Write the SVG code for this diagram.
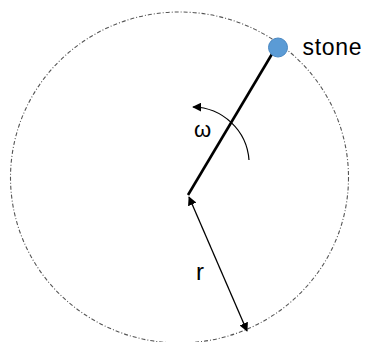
<svg xmlns="http://www.w3.org/2000/svg" width="368" height="342" viewBox="0 0 368 342">
<defs>
<style>
.lbl{font-family:"Liberation Sans",Arial,sans-serif;fill:#000}
</style>
<marker id="ah" viewBox="0 0 10 10" refX="9" refY="5" markerWidth="9" markerHeight="9" markerUnits="userSpaceOnUse" orient="auto-start-reverse">
<path d="M0,0 L10,5 L0,10 Z" fill="#000"/>
</marker>
</defs>
<rect width="368" height="342" fill="#fff"/>
<g id="path-circle">
<ellipse cx="179.5" cy="177.5" rx="169" ry="165.5" fill="none" stroke="#555" stroke-width="1.1" stroke-dasharray="4 2 1 2"/>
</g>
<g id="connectors">
<line id="rod" x1="188" y1="195" x2="272" y2="54" stroke="#000" stroke-width="2.6"/>
<path id="omega-arc" d="M249,160 A57,57 0 0 0 193,107" fill="none" stroke="#000" stroke-width="1.2" marker-end="url(#ah)"/>
<line id="radius" x1="189" y1="197" x2="247" y2="331" stroke="#000" stroke-width="1.3" marker-start="url(#ah)" marker-end="url(#ah)"/>
</g>
<g id="stone">
<circle cx="278" cy="47.5" r="9.5" fill="#5b9bd5" stroke="#4a88c2" stroke-width="1"/>
<text class="lbl" x="302.5" y="55" font-size="23" textLength="59">stone</text>
</g>
<g id="omega">
<text class="lbl" x="194" y="137" font-size="22">ω</text>
</g>
<g id="r-label">
<text class="lbl" x="196" y="280" font-size="24">r</text>
</g>
</svg>
